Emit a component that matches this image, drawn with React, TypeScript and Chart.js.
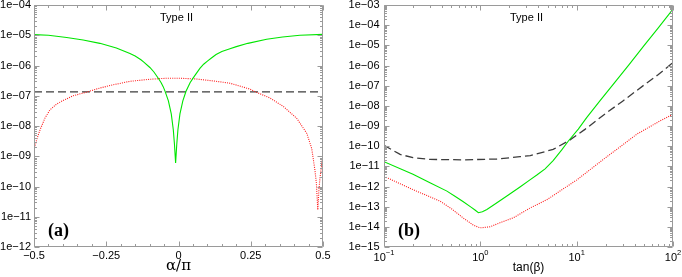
import React, { useEffect, useRef } from 'react';
import { Chart, registerables } from 'chart.js';

Chart.register(...registerables);
Chart.defaults.font.family = '"Liberation Sans", Arial, sans-serif';
Chart.defaults.color = '#000';

// ---------- Panel (a): alpha / pi ----------
const alphaGreenX = [-0.5, -0.45, -0.387, -0.33, -0.272, -0.215, -0.168, -0.15, -0.13, -0.12, -0.099, -0.085, -0.07, -0.06, -0.053, -0.047, -0.035, -0.025, -0.018, -0.014, -0.01, -0.006, -0.002, 0.005, 0.015, 0.026, 0.04, 0.051, 0.06, 0.074, 0.087, 0.1, 0.115, 0.13, 0.15, 0.178, 0.2, 0.24, 0.305, 0.36, 0.42, 0.5];
const alphaGreenY = [1.05e-5, 1.0e-5, 8.4e-6, 7.0e-6, 5.4e-6, 3.8e-6, 2.5e-6, 2.05e-6, 1.55e-6, 1.3e-6, 8.6e-7, 6.1e-7, 3.8e-7, 2.7e-7, 2e-7, 1.45e-7, 6.8e-8, 2.5e-8, 7.5e-9, 2.5e-9, 6e-10, 2.5e-9, 7.5e-9, 2.5e-8, 6.8e-8, 1.4e-7, 2.7e-7, 3.9e-7, 5.2e-7, 8e-7, 1.1e-6, 1.4e-6, 1.8e-6, 2.3e-6, 2.9e-6, 3.6e-6, 4.2e-6, 5.4e-6, 7.4e-6, 8.8e-6, 1.0e-5, 1.07e-5];

const alphaRedX = [-0.5, -0.491, -0.479, -0.462, -0.445, -0.422, -0.399, -0.364, -0.318, -0.272, -0.226, -0.168, -0.1, -0.04, 0, 0.06, 0.12, 0.178, 0.247, 0.27, 0.317, 0.363, 0.409, 0.444, 0.461, 0.472, 0.477, 0.482, 0.486, 0.49, 0.5];
const alphaRedY = [1.64e-9, 3.5e-9, 7.5e-9, 1.83e-8, 3.4e-8, 5.3e-8, 7e-8, 1e-7, 1.32e-7, 1.8e-7, 2.3e-7, 3e-7, 3.5e-7, 3.8e-7, 3.8e-7, 3.6e-7, 3.1e-7, 2.6e-7, 1.66e-7, 1.3e-7, 8.4e-8, 4.4e-8, 1.8e-8, 5.7e-9, 1.8e-9, 3.5e-10, 1.3e-10, 1.7e-11, 8e-11, 2.1e-10, 1.1e-9];

const alphaDashX = [-0.5, 0.5];
const alphaDashY = [1.35e-7, 1.35e-7];

const leftXTicks = [-0.5, -0.25, 0, 0.25, 0.5];
const leftYTicks = [1e-12, 1e-11, 1e-10, 1e-9, 1e-8, 1e-7, 1e-6, 1e-5, 1e-4];

// ---------- Panel (b): tan(beta) ----------
const tbGreenX = [0.1, 0.2, 0.3, 0.45, 0.55, 0.66, 0.8, 0.88, 0.955, 1.05, 1.17, 1.5, 1.87, 2.58, 3.3, 3.86, 4.7, 5.7, 7, 8.2, 10.4, 12.7, 17.5, 25, 35, 50, 70, 100];
const tbGreenY = [1.7e-11, 4e-12, 1.55e-12, 5.9e-13, 3.2e-13, 1.8e-13, 9.5e-14, 6.8e-14, 5e-14, 5.6e-14, 7.2e-14, 1.6e-13, 3.3e-13, 9.5e-13, 2.2e-12, 3.7e-12, 7.5e-12, 1.9e-11, 6.5e-11, 1.8e-10, 7e-10, 2.6e-9, 1.8e-8, 1.5e-7, 1.1e-6, 9.7e-6, 7.2e-5, 6.3e-4];

const tbRedX = [0.1, 0.2, 0.38, 0.5, 0.66, 0.85, 0.99, 1.26, 1.6, 2.2, 3.3, 4.9, 8.5, 10, 18.9, 30, 42, 73.5, 100];
const tbRedY = [3.2e-12, 7e-13, 1.9e-13, 8e-14, 2.8e-14, 1.2e-14, 8.9e-15, 1e-14, 1.6e-14, 2.8e-14, 8.7e-14, 2.2e-13, 1.26e-12, 2.1e-12, 2.2e-11, 1.15e-10, 3.9e-10, 1.8e-9, 3.8e-9];

const tbDashX = [0.1, 0.147, 0.2, 0.3, 0.67, 1.48, 2.58, 3.3, 5.7, 8.2, 12.2, 20, 30, 50, 70, 100];
const tbDashY = [1.1e-10, 3.9e-11, 2.7e-11, 2.2e-11, 2.1e-11, 2.3e-11, 3e-11, 3.4e-11, 6.9e-11, 1.8e-10, 6.8e-10, 4.2e-9, 1.7e-8, 1.07e-7, 3.5e-7, 1.4e-6];

const rightXTicks = [0.1, 1, 10, 100];
const rightYTicks = [1e-15, 1e-14, 1e-13, 1e-12, 1e-11, 1e-10, 1e-9, 1e-8, 1e-7, 1e-6, 1e-5, 1e-4, 1e-3];

// ---------- helpers ----------
const pts = (xs: number[], ys: number[]) => xs.map((x, i) => ({ x, y: ys[i] }));

const logMinors = (lo: number, hi: number) => {
  const out: number[] = [];
  for (let e = Math.round(Math.log10(lo)); e < Math.round(Math.log10(hi)); e++) {
    for (let m = 2; m <= 9; m++) out.push(m * Math.pow(10, e));
  }
  return out;
};
const linMinors = (lo: number, hi: number, step: number) => {
  const out: number[] = [];
  const n = Math.round((hi - lo) / step);
  for (let i = 0; i <= n; i++) out.push(lo + i * step);
  return out;
};

const fmtExp = (v: number) => {
  const e = Math.round(Math.log10(v));
  return '1e' + (e < 0 ? '\u2212' : '+') + String(Math.abs(e)).padStart(2, '0');
};

const SANS = '"Liberation Sans", Arial, sans-serif';

const framePlugin = {
  id: 'frame',
  afterDatasetsDraw(chart: any, _args: any, opts: any) {
    const { ctx, chartArea: a, scales } = chart;
    const L = Math.round(a.left) + 0.5;
    const R = Math.round(a.right) - 0.5;
    const T = Math.round(a.top) + 0.5;
    const B = Math.round(a.bottom) - 0.5;
    ctx.save();
    ctx.strokeStyle = '#9a9a9a';
    ctx.lineWidth = 1;
    ctx.setLineDash([]);
    ctx.beginPath();
    ctx.rect(L, T, R - L, B - T);
    const xt = (vals: number[], len: number) => {
      vals.forEach((v) => {
        const p = Math.round(scales.x.getPixelForValue(v)) + 0.5;
        if (p < L - 1 || p > R + 1) return;
        ctx.moveTo(p, B); ctx.lineTo(p, B - len);
        ctx.moveTo(p, T); ctx.lineTo(p, T + len);
      });
    };
    const yt = (vals: number[], len: number) => {
      vals.forEach((v) => {
        const p = Math.round(scales.y.getPixelForValue(v)) + 0.5;
        if (p < T - 1 || p > B + 1) return;
        ctx.moveTo(L, p); ctx.lineTo(L + len, p);
        ctx.moveTo(R, p); ctx.lineTo(R - len, p);
      });
    };
    xt(opts.xMajor, 5); xt(opts.xMinor, 2.5);
    yt(opts.yMajor, 5); yt(opts.yMinor, 2.5);
    ctx.stroke();

    // texts
    ctx.fillStyle = '#000';
    const cx = (a.left + a.right) / 2;
    ctx.font = `11px ${SANS}`;
    ctx.textAlign = 'center';
    ctx.textBaseline = 'middle';
    ctx.fillText('Type II', cx - 2, a.top + 13);
    ctx.font = 'bold 18px "Liberation Serif", "Times New Roman", serif';
    ctx.textAlign = 'left';
    ctx.fillText(opts.tag, a.left + opts.tagDx, a.bottom - 16);

    if (opts.powerLabels) {
      opts.xMajor.forEach((v: number) => {
        const p = scales.x.getPixelForValue(v);
        const e = Math.round(Math.log10(v));
        const es = e < 0 ? '\u2212' + Math.abs(e) : String(e);
        ctx.font = `11px ${SANS}`;
        const wb = ctx.measureText('10').width;
        ctx.font = `7.5px ${SANS}`;
        const we = ctx.measureText(es).width;
        const x0 = p - (wb + we) / 2;
        ctx.textAlign = 'left';
        ctx.textBaseline = 'alphabetic';
        ctx.font = `11px ${SANS}`;
        ctx.fillText('10', x0, a.bottom + 13.5);
        ctx.font = `7.5px ${SANS}`;
        ctx.fillText(es, x0 + wb, a.bottom + 7.5);
      });
    }
    ctx.restore();
  },
};

function makeConfig(
  sets: { data: { x: number; y: number }[]; color: string; dash: number[]; width: number }[],
  xType: 'linear' | 'logarithmic',
  xMin: number,
  xMax: number,
  yMin: number,
  yMax: number,
  xTicks: number[],
  yTicks: number[],
  yWidth: number,
  yPad: number,
  rightPad: number,
  xTitle: string,
  xTitleFont: any,
  frameOpts: any,
  showXTicks: boolean,
) {
  return {
    type: 'line' as const,
    data: {
      datasets: sets.map((s) => ({
        data: s.data,
        borderColor: s.color,
        borderDash: s.dash,
        borderWidth: s.width,
        pointRadius: 0,
        tension: 0,
        fill: false,
      })),
    },
    options: {
      animation: false as const,
      responsive: false,
      events: [],
      layout: { padding: { top: 5, right: rightPad, left: 0, bottom: 0 } },
      plugins: {
        legend: { display: false },
        tooltip: { enabled: false },
        frame: frameOpts,
      },
      scales: {
        x: {
          type: xType,
          min: xMin,
          max: xMax,
          grid: { display: false, drawTicks: false },
          border: { display: false },
          afterBuildTicks: (s: any) => { s.ticks = xTicks.map((v) => ({ value: v })); },
          afterFit: (s: any) => { s.height = 30; s.paddingLeft = 0; s.paddingRight = 0; },
          ticks: {
            display: showXTicks,
            autoSkip: false,
            maxRotation: 0,
            padding: 2.5,
            font: { size: 11 },
            callback: (v: any) => {
              const n = Number(v);
              if (n === 0) return '0';
              return (n < 0 ? '\u2212' : '') + String(Math.abs(n));
            },
          },
          title: { display: true, text: xTitle, font: xTitleFont, padding: { top: 0, bottom: 2 } },
        },
        y: {
          type: 'logarithmic' as const,
          min: yMin,
          max: yMax,
          grid: { display: false, drawTicks: false },
          border: { display: false },
          afterBuildTicks: (s: any) => { s.ticks = yTicks.map((v) => ({ value: v })); },
          afterFit: (s: any) => { s.width = yWidth; s.paddingTop = 0; s.paddingBottom = 0; },
          ticks: {
            autoSkip: false,
            padding: yPad,
            font: { size: 11 },
            callback: (v: any) => fmtExp(Number(v)),
          },
        },
      },
    },
    plugins: [framePlugin],
  };
}

const GREEN = '#00e600';
const RED = '#ff1a1a';
const DARK = '#3c3c3c';

function Panel({ width, build }: { width: number; build: () => any }) {
  const ref = useRef<HTMLCanvasElement>(null);
  useEffect(() => {
    if (!ref.current) return;
    const chart = new Chart(ref.current, build());
    return () => chart.destroy();
  }, []);
  return <canvas ref={ref} width={width} height={277} style={{ display: 'block', width, height: 277 }} />;
}

export default function App() {
  const buildLeft = () =>
    makeConfig(
      [
        { data: pts(alphaGreenX, alphaGreenY), color: GREEN, dash: [], width: 1.1 },
        { data: pts(alphaRedX, alphaRedY), color: RED, dash: [1, 1.2], width: 1.1 },
        { data: pts(alphaDashX, alphaDashY), color: DARK, dash: [8, 4], width: 1.3 },
      ],
      'linear', -0.5, 0.5, 1e-12, 1e-4,
      leftXTicks, leftYTicks, 34, 3, 17,
      '\u03b1/\u03c0', { size: 15, family: '"DejaVu Serif", "Liberation Serif", serif' },
      {
        xMajor: leftXTicks,
        xMinor: linMinors(-0.5, 0.5, 0.05),
        yMajor: leftYTicks,
        yMinor: logMinors(1e-12, 1e-4),
        tag: '(a)',
        tagDx: 14,
        powerLabels: false,
      },
      true,
    );
  const buildRight = () =>
    makeConfig(
      [
        { data: pts(tbGreenX, tbGreenY), color: GREEN, dash: [], width: 1.1 },
        { data: pts(tbRedX, tbRedY), color: RED, dash: [1, 1.2], width: 1.1 },
        { data: pts(tbDashX, tbDashY), color: DARK, dash: [8, 4], width: 1.3 },
      ],
      'logarithmic', 0.1, 100, 1e-15, 1e-3,
      rightXTicks, rightYTicks, 44, 4.5, 9,
      'tan(\u03b2)', { size: 12 },
      {
        xMajor: rightXTicks,
        xMinor: logMinors(0.1, 100),
        yMajor: rightYTicks,
        yMinor: logMinors(1e-15, 1e-3),
        tag: '(b)',
        tagDx: 14,
        powerLabels: true,
      },
      false,
    );
  return (
    <div style={{ position: 'absolute', left: 0, top: 0, width: 682, height: 277, background: '#fff', display: 'flex' }}>
      <Panel width={340} build={buildLeft} />
      <Panel width={342} build={buildRight} />
    </div>
  );
}
